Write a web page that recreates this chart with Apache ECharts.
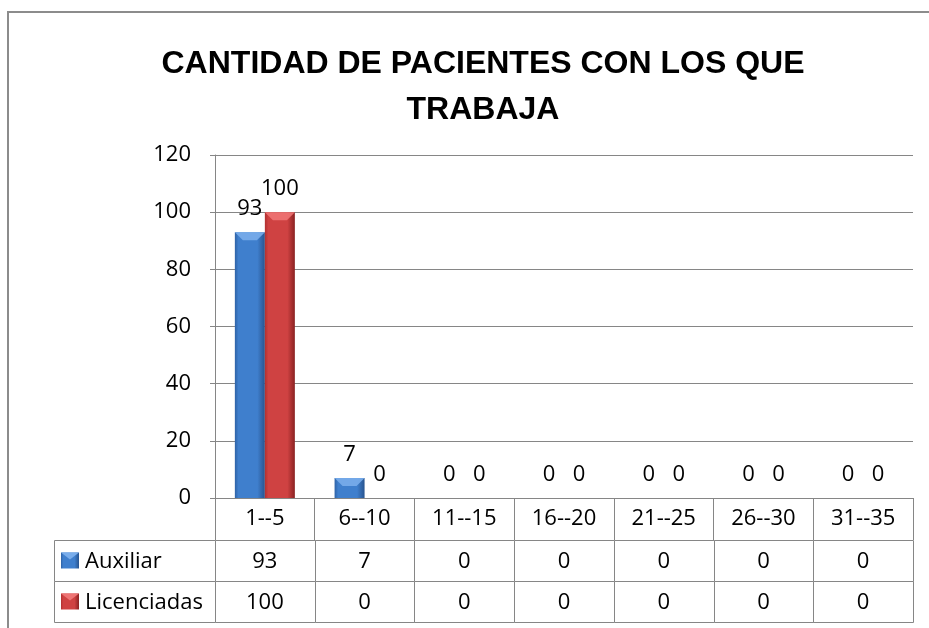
<!DOCTYPE html>
<html><head><meta charset="utf-8">
<script src="https://cdn.jsdelivr.net/npm/echarts@6/dist/echarts.min.js"></script>
<style>html,body{margin:0;padding:0;background:#fff}#c{width:929px;height:628px}</style>
</head><body><div id="c"></div>
<script>
const categories = ['1--5','6--10','11--15','16--20','21--25','26--30','31--35'];
const auxiliar = [93,7,0,0,0,0,0];
const licenciadas = [100,0,0,0,0,0,0];
const seriesNames = ['Auxiliar','Licenciadas'];
const yMin = 0, yMax = 120, yStep = 20;
const titleText = 'CANTIDAD DE PACIENTES CON LOS QUE\nTRABAJA';

const FONT = 'Open Sans';
const FS = 22;
const GRID = '#868686';
const BAR_W = 30;
const HEADER_H = 42;
const ROW_H = 41;
const LEG_W = 161;

const palettes = [
  {edgeL:'#2E62A6', mid:'#3F7FCD', edgeR:'#28548F', light:'#79ADEB'},
  {edgeL:'#B13030', mid:'#CF4242', edgeR:'#8A2222', light:'#EE7474'}
];
function grad(p){
  return {type:'linear',x:0,y:0,x2:1,y2:0,colorStops:[
    {offset:0,color:p.edgeL},{offset:0.12,color:p.mid},{offset:0.75,color:p.mid},{offset:1,color:p.edgeR}]};
}

const chart = echarts.init(document.getElementById('c'), null, {renderer:'canvas'});

function tableItem(params, api){
  const i = api.value(0);
  const c = api.coord([i, 0]);
  const w = api.size([1, 0])[0];
  const x0 = c[0] - w/2;
  const top = c[1] + HEADER_H;
  const vals = [api.value(1), api.value(2)];
  const children = [];
  for (let r = 0; r < 2; r++){
    const y = top + r*ROW_H;
    children.push({type:'rect', shape:{x:Math.round(x0)+0.5, y:Math.round(y)+0.5, width:Math.round(w), height:ROW_H},
      style:{fill:'#fff', stroke:GRID, lineWidth:1}});
    children.push({type:'text', style:{text:String(vals[r]), x:c[0], y:y+ROW_H/2+1, align:'center', verticalAlign:'middle',
      font: FS+'px "'+FONT+'"', fill:'#000'}});
  }
  if (i === 0){
    for (let r = 0; r < 2; r++){
      const y = top + r*ROW_H;
      const lx = Math.round(x0) - LEG_W;
      children.push({type:'rect', shape:{x:lx+0.5, y:Math.round(y)+0.5, width:LEG_W, height:ROW_H},
        style:{fill:'#fff', stroke:GRID, lineWidth:1}});
      const p = palettes[r];
      const kx = lx + 7, ky = y + ROW_H/2 - 8;
      children.push({type:'rect', shape:{x:kx, y:ky, width:18, height:16}, style:{fill:grad(p)}});
      children.push({type:'polygon', shape:{points:[[kx,ky],[kx+18,ky],[kx+9,ky+7]]}, style:{fill:p.light}});
      children.push({type:'text', style:{text:seriesNames[r], x:lx+31, y:y+ROW_H/2+1, align:'left', verticalAlign:'middle',
        font: FS+'px "'+FONT+'"', fill:'#000'}});
    }
  }
  return {type:'group', children};
}

function bevelItem(params, api){
  const i = api.value(0), v = api.value(1), s = api.value(2);
  const t = api.coord([i, v]);
  const b = api.coord([i, 0]);
  const h = b[1] - t[1];
  if (h <= 0) return null;
  const xc = t[0] + (s === 0 ? -BAR_W/2 : BAR_W/2);
  const x0 = xc - BAR_W/2, x1 = xc + BAR_W/2;
  const d = Math.min(8, h*0.45);
  const p = palettes[s];
  return {type:'polygon', shape:{points:[[x0,t[1]],[x1,t[1]],[x1-d,t[1]+d],[x0+d,t[1]+d]]}, style:{fill:p.light, opacity:0.9}};
}

const bevelData = [];
auxiliar.forEach((v,i)=>bevelData.push([i,v,0]));
licenciadas.forEach((v,i)=>bevelData.push([i,v,1]));

const labelCfg = {show:true, position:'top', distance:12, fontSize:FS, fontFamily:FONT, color:'#000'};

chart.setOption({
  animation:false,
  backgroundColor:'#fff',
  title:{text:titleText, left:478, top:36, textAlign:'center',
    textStyle:{fontFamily:'Liberation Sans', fontWeight:'bold', fontSize:32, lineHeight:46, color:'#000'}},
  grid:{left:215, right:16, top:155, bottom:130, containLabel:false},
  xAxis:{type:'category', data:categories,
    axisLine:{lineStyle:{color:GRID, width:1}},
    axisTick:{show:true, length:HEADER_H, interval:0, lineStyle:{color:GRID}},
    axisLabel:{interval:0, margin:10, fontSize:FS, fontFamily:FONT, color:'#000'}},
  yAxis:{type:'value', min:yMin, max:yMax, interval:yStep,
    axisLine:{show:true, lineStyle:{color:GRID}},
    axisTick:{show:true, length:5, lineStyle:{color:GRID}},
    splitLine:{lineStyle:{color:GRID, width:1}},
    axisLabel:{margin:24, fontSize:FS, fontFamily:FONT, color:'#000'}},
  series:[
    {name:seriesNames[0], type:'bar', data:auxiliar, barWidth:BAR_W, barGap:'0%',
     itemStyle:{color:grad(palettes[0])}, label:labelCfg},
    {name:seriesNames[1], type:'bar', data:licenciadas, barWidth:BAR_W, barGap:'0%',
     itemStyle:{color:grad(palettes[1])}, label:labelCfg},
    {type:'custom', silent:true, z:3, renderItem:bevelItem, data:bevelData},
    {type:'custom', silent:true, clip:false, z:5, renderItem:tableItem,
     data:categories.map((c,i)=>[i, auxiliar[i], licenciadas[i]])}
  ],
  graphic:[{type:'rect', silent:true, z:-1, shape:{x:8,y:12,width:970,height:700},
    style:{fill:'none', stroke:'#8c8c8c', lineWidth:2}}]
});
</script></body></html>
